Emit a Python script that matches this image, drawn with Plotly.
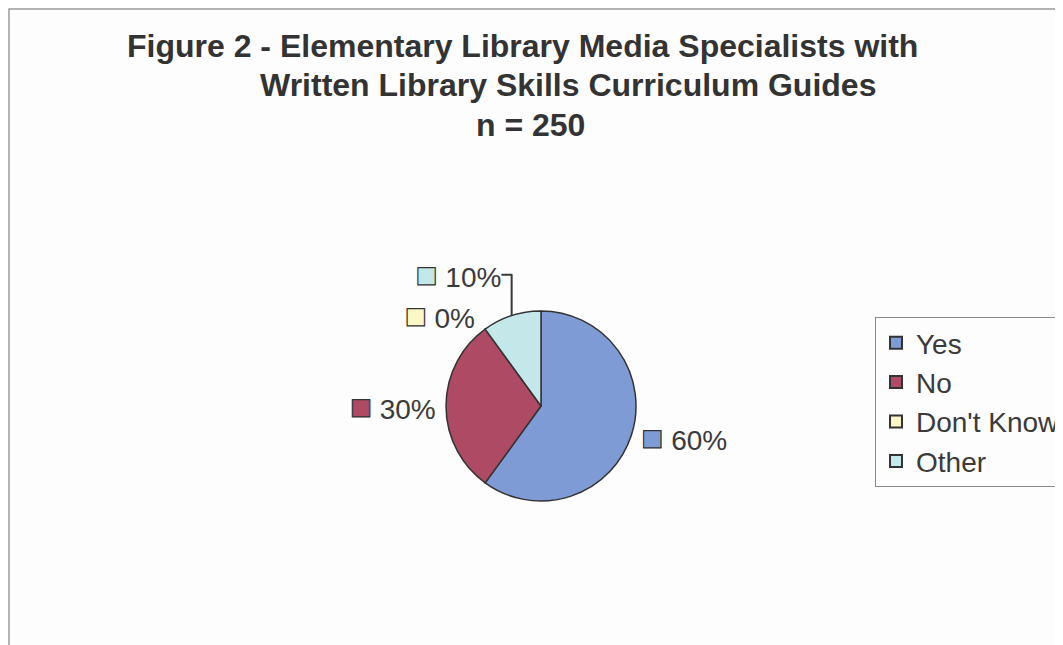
import plotly.graph_objects as go

labels = ["Yes", "No", "Don't Know", "Other"]
values = [60, 30, 0, 10]
colors = ["#7f9bd6", "#ae4a63", "#fbf7c6", "#c4e7ea"]

title_lines = [
    "Figure 2 - Elementary Library Media Specialists with",
    "Written Library Skills Curriculum Guides",
    "n = 250",
]

# the chart is wider than the window, the legend runs off its right edge
W, H = 1100, 645
OFF = 8  # page body margin

FONT = "Liberation Sans, Arial"

fig = go.Figure()
fig.add_trace(go.Pie(
    labels=labels,
    values=values,
    customdata=colors,
    sort=False,
    direction="clockwise",
    rotation=0,
    marker=dict(colors=colors, line=dict(color="#333333", width=1.5)),
    textposition="outside",
    texttemplate="<span style='color:%{customdata};stroke:#333333;stroke-width:1.2px;font-size:36px'>■</span> %{percent:.0%}",
    textfont=dict(family=FONT, size=28, color="#3a3a3a"),
    domain=dict(x=[(541 - OFF - 95) / W, (541 - OFF + 95) / W],
                y=[1 - (406 - OFF + 95) / H, 1 - (406 - OFF - 95) / H]),
    showlegend=True,
    hoverinfo="label+percent",
))

# title lines, placed as in the original
title_x = [522, 568, 530]
title_y = [46, 85, 125]
for txt, tx, ty in zip(title_lines, title_x, title_y):
    fig.add_annotation(
        text="<b>" + txt + "</b>", x=(tx - OFF) / W, y=1 - (ty - OFF) / H,
        xref="paper", yref="paper", showarrow=False,
        xanchor="center", yanchor="middle",
        font=dict(family=FONT, size=32, color="#333333"),
    )

# outer chart frame
fig.add_shape(type="rect", xref="paper", yref="paper",
              x0=1 / W, x1=1.01, y0=-0.01, y1=1 - 1 / H,
              line=dict(color="#9a9a9a", width=1.5), layer="below")

fig.update_layout(
    width=W, height=H,
    margin=dict(l=0, r=0, t=0, b=0),
    paper_bgcolor="#fdfdfd",
    plot_bgcolor="#fdfdfd",
    legend=dict(
        x=(875 - OFF) / W, y=1 - (317 - OFF) / H, xanchor="left", yanchor="top",
        bgcolor="#fdfdfd", bordercolor="#8a8a8a", borderwidth=1,
        font=dict(family=FONT, size=28, color="#3a3a3a"),
        itemsizing="constant", tracegroupgap=0,
    ),
)

fig.write_html("out.html")
